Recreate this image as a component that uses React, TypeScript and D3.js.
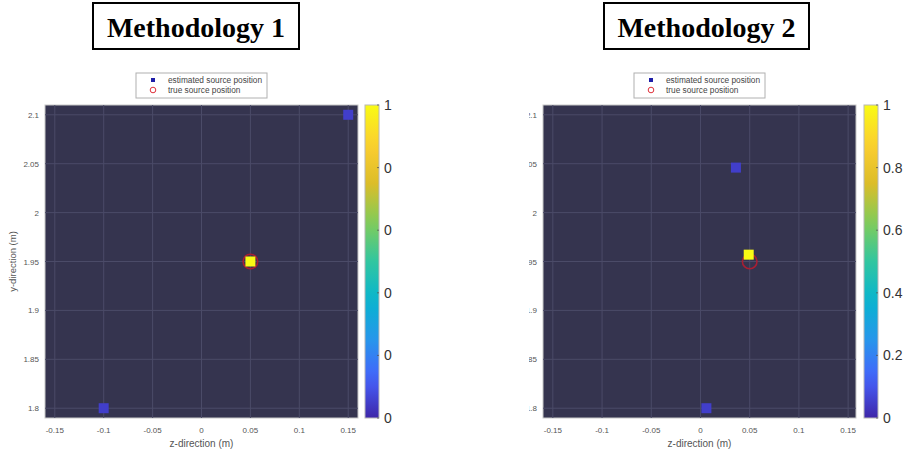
import React from "react";
import * as d3 from "d3";

// ---- data ----
const zTicks = [-0.15, -0.1, -0.05, 0, 0.05, 0.1, 0.15];
const zTickLabels = ["-0.15", "-0.1", "-0.05", "0", "0.05", "0.1", "0.15"];
const yTicks = [1.8, 1.85, 1.9, 1.95, 2, 2.05, 2.1];
const yTickLabels = ["1.8", "1.85", "1.9", "1.95", "2", "2.05", "2.1"];
const cbTicks = [0, 0.2, 0.4, 0.6, 0.8, 1];
const cbLabels1 = ["0", "0", "0", "0", "0", "1"];
const cbLabels2 = ["0", "0.2", "0.4", "0.6", "0.8", "1"];

const m1EstZ = [-0.1, 0.05, 0.15];
const m1EstY = [1.8, 1.95, 2.1];
const m1EstV = [0.05, 1, 0.05];

const m2EstZ = [0.006, 0.036, 0.049];
const m2EstY = [1.8, 2.046, 1.957];
const m2EstV = [0.05, 0.05, 1];

const trueZ = [0.05];
const trueY = [1.95];

const legendLabels = ["estimated source position", "true source position"];

// parula-like colormap stops
const parulaStops = [
  [62, 38, 168],
  [69, 97, 252],
  [39, 150, 235],
  [8, 180, 208],
  [49, 198, 160],
  [129, 204, 89],
  [220, 189, 41],
  [252, 207, 48],
  [249, 251, 20],
];
const parula = d3
  .scaleLinear<string>()
  .domain(parulaStops.map((_, i) => i / (parulaStops.length - 1)))
  .range(parulaStops.map((c) => `rgb(${c[0]},${c[1]},${c[2]})`))
  .interpolate(d3.interpolateRgb);

const SANS = "'Liberation Sans', Arial, sans-serif";
const SERIF = "'Liberation Serif', 'Times New Roman', serif";

type PanelProps = {
  id: string;
  title: string;
  titleBox: [number, number, number, number];
  legendX: number;
  plot: [number, number, number, number];
  zDomain: [number, number];
  estZ: number[];
  estY: number[];
  estV: number[];
  cbX: number;
  cbLabels: string[];
  showYTitle: boolean;
  yClipX: number;
};

function Panel(p: PanelProps) {
  const [x0, x1, y0, y1] = p.plot;
  const xs = d3.scaleLinear().domain(p.zDomain).range([x0, x1]);
  const ys = d3.scaleLinear().domain([1.79, 2.11]).range([y1, y0]);
  const cs = d3.scaleLinear().domain([0, 1]).range([y1, y0]);
  const cx = (x0 + x1) / 2;
  const [bx, by, bw, bh] = p.titleBox;
  const sq = 10;
  return (
    <g>
      <defs>
        <linearGradient id={`grad-${p.id}`} x1="0" y1="1" x2="0" y2="0">
          {d3.range(0, 1.0001, 0.05).map((t) => (
            <stop key={t} offset={`${t * 100}%`} stopColor={parula(t)} />
          ))}
        </linearGradient>
        <clipPath id={`yclip-${p.id}`}>
          <rect x={p.yClipX} y={0} width={x0 - p.yClipX} height={454} />
        </clipPath>
      </defs>
      {/* title */}
      <rect x={bx} y={by} width={bw} height={bh} fill="white" stroke="black" strokeWidth={2} />
      <text x={bx + bw / 2} y={by + 34} textAnchor="middle" fontFamily={SERIF} fontWeight="bold" fontSize={28} fill="black">
        {p.title}
      </text>
      {/* legend */}
      <rect x={p.legendX} y={73} width={131} height={25} fill="white" stroke="#b0b0b0" strokeWidth={1} />
      <rect x={p.legendX + 15} y={78} width={4} height={4} fill="#1e1ea8" />
      <circle cx={p.legendX + 17} cy={90} r={2.8} fill="none" stroke="#e0303a" strokeWidth={1} />
      {legendLabels.map((l, i) => (
        <text key={l} x={p.legendX + 32} y={83 + i * 10} fontFamily={SANS} fontSize={8.3} fill="#444">
          {l}
        </text>
      ))}
      {/* plot area */}
      <rect x={x0} y={y0} width={x1 - x0} height={y1 - y0} fill="#35344f" stroke="#c8c8c8" strokeWidth={1} />
      {zTicks.map((t) => (
        <line key={`gz${t}`} x1={xs(t)} x2={xs(t)} y1={y0} y2={y1} stroke="#4b4b68" strokeWidth={1} />
      ))}
      {yTicks.map((t) => (
        <line key={`gy${t}`} x1={x0} x2={x1} y1={ys(t)} y2={ys(t)} stroke="#4b4b68" strokeWidth={1} />
      ))}
      {/* true positions */}
      {trueZ.map((z, i) => (
        <circle key={`t${i}`} cx={xs(z)} cy={ys(trueY[i])} r={7.3} fill="none" stroke="#a81f33" strokeWidth={1.6} />
      ))}
      {/* estimated positions */}
      {p.estZ.map((z, i) => (
        <rect
          key={`e${i}`}
          x={xs(z) - sq / 2}
          y={ys(p.estY[i]) - sq / 2}
          width={sq}
          height={sq}
          fill={parula(p.estV[i])}
        />
      ))}
      {/* x tick labels */}
      {zTicks.map((t, i) => (
        <text key={`xl${t}`} x={xs(t)} y={y1 + 15} textAnchor="middle" fontFamily={SANS} fontSize={8} fill="#555">
          {zTickLabels[i]}
        </text>
      ))}
      <text x={cx} y={y1 + 29} textAnchor="middle" fontFamily={SANS} fontSize={10} fill="#555">
        z-direction (m)
      </text>
      {/* y tick labels */}
      <g clipPath={`url(#yclip-${p.id})`}>
        {yTicks.map((t, i) => (
          <text key={`yl${t}`} x={x0 - 6} y={ys(t) + 3} textAnchor="end" fontFamily={SANS} fontSize={8} fill="#555">
            {yTickLabels[i]}
          </text>
        ))}
      </g>
      {p.showYTitle && (
        <text
          transform={`translate(${x0 - 29},${(y0 + y1) / 2}) rotate(-90)`}
          textAnchor="middle"
          fontFamily={SANS}
          fontSize={9.5}
          fill="#555"
        >
          y-direction (m)
        </text>
      )}
      {/* colorbar */}
      <rect x={p.cbX} y={y0} width={14} height={y1 - y0} fill={`url(#grad-${p.id})`} stroke="#b8b8b8" strokeWidth={1} />
      {cbTicks.map((t, i) => (
        <g key={`cb${t}`}>
          <line x1={p.cbX + 12} x2={p.cbX + 14} y1={cs(t)} y2={cs(t)} stroke="#555" strokeWidth={0.8} />
          <text x={p.cbX + 19} y={cs(t) + 5} fontFamily={SANS} fontSize={14} fill="#333">
            {p.cbLabels[i]}
          </text>
        </g>
      ))}
    </g>
  );
}

export default function App() {
  return (
    <svg width={907} height={454} style={{ position: "absolute", left: 0, top: 0, background: "white" }}>
      <rect x={0} y={0} width={907} height={454} fill="white" />
      <Panel
        id="m1"
        title="Methodology 1"
        titleBox={[93, 3, 206, 46]}
        legendX={136}
        plot={[45, 358, 105, 418]}
        zDomain={[-0.16, 0.16]}
        estZ={m1EstZ}
        estY={m1EstY}
        estV={m1EstV}
        cbX={365}
        cbLabels={cbLabels1}
        showYTitle={true}
        yClipX={0}
      />
      <Panel
        id="m2"
        title="Methodology 2"
        titleBox={[604, 3, 205, 46]}
        legendX={634}
        plot={[543, 856, 105, 418]}
        zDomain={[-0.16, 0.158]}
        estZ={m2EstZ}
        estY={m2EstY}
        estV={m2EstV}
        cbX={864}
        cbLabels={cbLabels2}
        showYTitle={false}
        yClipX={529}
      />
    </svg>
  );
}
